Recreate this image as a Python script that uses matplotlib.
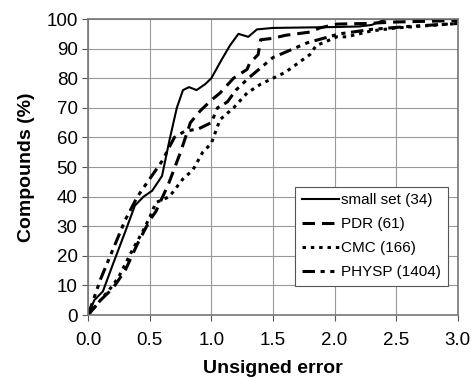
import matplotlib
matplotlib.use('Agg')
import matplotlib.pyplot as plt

plt.rcParams['font.family'] = ['Liberation Sans', 'DejaVu Sans']
plt.rcParams['lines.scale_dashes'] = False

# cumulative curves
small_x = [0, 0.05, 0.12, 0.2, 0.3, 0.38, 0.45, 0.52, 0.6, 0.66, 0.72, 0.77, 0.82, 0.88,
           0.95, 1.0, 1.08, 1.15, 1.22, 1.3, 1.37, 1.5, 2.0, 2.2, 2.3, 2.42, 3.0]
small_y = [0, 5, 8, 17, 28, 37, 40, 42, 47, 59, 70, 76, 77, 76,
           78, 80, 86, 91, 95, 94, 96.5, 97, 97.3, 97.5, 98, 100, 100]

pdr_x = [0, 0.1, 0.2, 0.3, 0.4, 0.5, 0.55, 0.65, 0.75, 0.83, 0.91, 1.0, 1.07, 1.18, 1.29,
         1.31, 1.38, 1.4, 1.5, 1.6, 1.8, 1.88, 2.02, 2.25, 2.5, 3.0]
pdr_y = [0, 5, 9, 15, 24, 32, 35, 44, 55, 65, 69, 72.6, 75, 80, 83,
         85, 88, 93, 93.5, 94.5, 95.6, 97, 98.3, 98.5, 99, 99.5]

cmc_x = [0, 0.1, 0.2, 0.25, 0.36, 0.44, 0.5, 0.55, 0.66, 0.77, 0.85, 0.93, 1.0, 1.07,
         1.18, 1.29, 1.4, 1.5, 1.6, 1.7, 1.8, 1.85, 2.02, 2.1, 2.3, 2.5, 3.0]
cmc_y = [0, 5, 10, 13, 22, 28, 33, 38, 40, 46, 49, 55, 58, 66,
         70, 75, 78, 80, 82, 85, 88, 91, 94, 94, 96, 97, 98.5]

physp_x = [0, 0.05, 0.1, 0.2, 0.3, 0.4, 0.5, 0.6, 0.7, 0.78, 0.9, 1.0, 1.05, 1.13, 1.2,
           1.3, 1.5, 1.78, 2.04, 2.3, 2.6, 3.0]
physp_y = [0, 6, 12, 22, 32, 40, 46, 52, 60, 62, 63, 65, 70, 72, 76,
           80, 87, 92, 95, 96.5, 97.5, 98.5]

fig = plt.figure(figsize=(4.71, 3.81), dpi=100)
ax = fig.add_axes([0.187, 0.173, 0.785, 0.777])

ax.plot(small_x, small_y, color='black', lw=1.5, label='small set (34)')
ax.plot(pdr_x, pdr_y, color='black', lw=2.2, dashes=(9, 5), label='PDR (61)')
ax.plot(cmc_x, cmc_y, color='black', lw=2.2, dashes=(2.5, 3.5), label='CMC (166)')
ax.plot(physp_x, physp_y, color='black', lw=2.2, dashes=(9, 4, 3, 4, 3, 4),
        label='PHYSP (1404)')

ax.set_xlim(0, 3.0)
ax.set_ylim(0, 100)
ax.set_xticks([0, 0.5, 1.0, 1.5, 2.0, 2.5, 3.0])
ax.set_xticklabels(['0.0', '0.5', '1.0', '1.5', '2.0', '2.5', '3.0'])
ax.set_yticks(range(0, 101, 10))
ax.tick_params(labelsize=13.5, direction='out', length=4, color='#555555')
ax.tick_params(axis='x', pad=8)
ax.grid(True, color='#999999', lw=0.8)
for s in ax.spines.values():
    s.set_color('#777777')
    s.set_linewidth(1.2)

ax.set_xlabel('Unsigned error', fontsize=14, fontweight='bold', labelpad=8)
ax.set_ylabel('Compounds (%)', fontsize=14, fontweight='bold', labelpad=8)

leg = ax.legend(loc='lower right', bbox_to_anchor=(0.973, 0.098), borderaxespad=0,
                fontsize=11, handlelength=2.4, handletextpad=0.15, borderpad=0.45,
                labelspacing=0.65, fancybox=False, framealpha=1, edgecolor='#555555')
leg.get_frame().set_linewidth(0.8)

plt.savefig('out.png', dpi=100)
